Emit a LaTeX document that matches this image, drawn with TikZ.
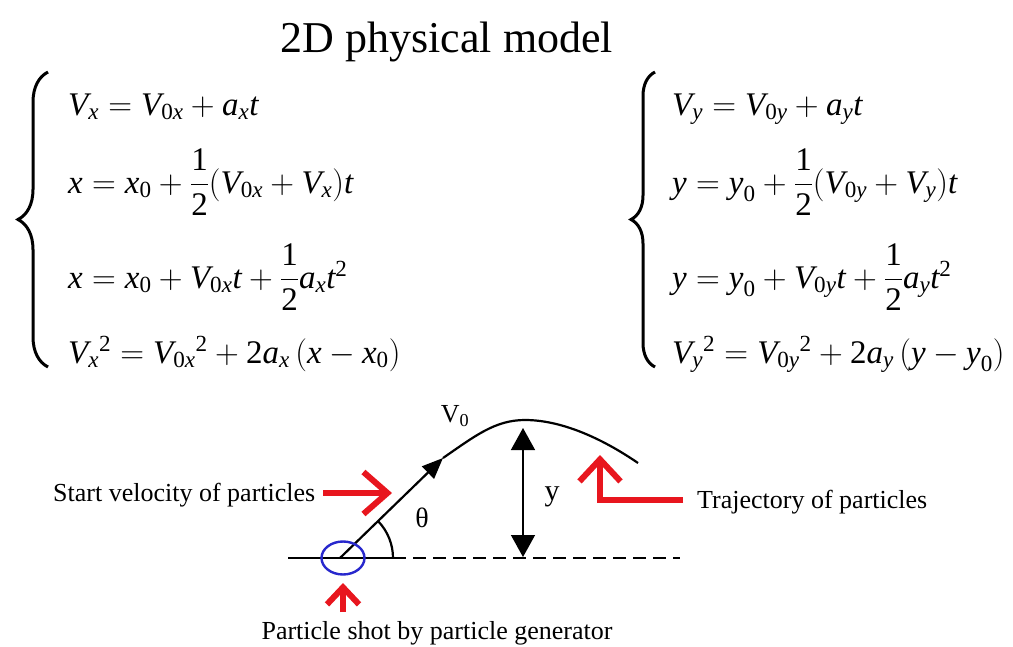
\documentclass[tikz,border=0pt]{standalone}
\usepackage{fix-cm}
\usepackage{amsmath}
\usepackage{fontspec}
\setmainfont{Liberation Serif}
\usetikzlibrary{arrows.meta,decorations.pathreplacing,shapes.geometric}
\newcommand\I[1]{\textit{#1}}
\newcommand\R[1]{\textrm{#1}}
\definecolor{redarrow}{RGB}{232,22,30}
\definecolor{blueellipse}{RGB}{40,40,205}
\tikzset{
  eq/.style={anchor=base west, inner sep=0pt, font=\fontsize{33}{40}\selectfont},
  lbl/.style={anchor=base west, inner sep=0pt, font=\fontsize{26}{30}\selectfont},
  redarr/.style={draw=redarrow, line width=6pt, -{Straight Barb[length=24pt,width=42pt]}},
  brc/.style={decorate, decoration={brace, amplitude=#1}, line width=3pt},
  traj/.style={line width=2.2pt},
}
\begin{document}
\begin{tikzpicture}[x=1pt,y=-1pt]
\fill[white] (0,0) rectangle (1013,646);
\useasboundingbox (0,0) rectangle (1013,646);

% title
\node[anchor=base, inner sep=0pt, font=\fontsize{44}{50}\selectfont] (title) at (447,52) {2D physical model};

% braces
\coordinate (lbB) at (48,367);
\coordinate (lbT) at (48,72);
\draw[brc=30pt] (lbB) -- (lbT);
\coordinate (rbB) at (655,367);
\coordinate (rbT) at (655,72);
\draw[brc=24pt] (rbB) -- (rbT);

% left equations
\node[eq] (ex1) at (68,115) {$\I{V}_{\I{x}}=\I{V}_{\R{0}\I{x}}+\I{a}_{\I{x}}\I{t}$};
\node[eq] (ex2) at (68,193) {$\I{x}=\I{x}_{\R{0}}+\dfrac{\R{1}}{\R{2}}(\I{V}_{\R{0}\I{x}}+\I{V}_{\I{x}})\I{t}$};
\node[eq] (ex3) at (68,288) {$\I{x}=\I{x}_{\R{0}}+\I{V}_{\R{0}\I{x}}\I{t}+\dfrac{\R{1}}{\R{2}}\I{a}_{\I{x}}\I{t}^{\R{2}}$};
\node[eq] (ex4) at (68,363) {$\I{V}_{\I{x}}{}^{\R{2}}=\I{V}_{\R{0}\I{x}}{}^{\R{2}}+\R{2}\I{a}_{\I{x}}\,(\I{x}-\I{x}_{\R{0}})$};

% right equations
\node[eq] (ey1) at (672,115) {$\I{V}_{\I{y}}=\I{V}_{\R{0}\I{y}}+\I{a}_{\I{y}}\I{t}$};
\node[eq] (ey2) at (672,193) {$\I{y}=\I{y}_{\R{0}}+\dfrac{\R{1}}{\R{2}}(\I{V}_{\R{0}\I{y}}+\I{V}_{\I{y}})\I{t}$};
\node[eq] (ey3) at (672,288) {$\I{y}=\I{y}_{\R{0}}+\I{V}_{\R{0}\I{y}}\I{t}+\dfrac{\R{1}}{\R{2}}\I{a}_{\I{y}}\I{t}^{\R{2}}$};
\node[eq] (ey4) at (672,363) {$\I{V}_{\I{y}}{}^{\R{2}}=\I{V}_{\R{0}\I{y}}{}^{\R{2}}+\R{2}\I{a}_{\I{y}}\,(\I{y}-\I{y}_{\R{0}})$};

% physical sketch
\coordinate (launch) at (340,558);
\coordinate (vtip) at (443,458);
\coordinate (apex) at (525,420);
\coordinate (trajend) at (638,463);
\coordinate (gl) at (288,558);
\coordinate (arcend) at (393,558);
\coordinate (gr) at (680,558);
\coordinate (ytop) at (523,428);
\coordinate (ybot) at (523,557);

\draw[traj] (gl) -- (arcend);
\draw[traj, dash pattern=on 13pt off 7pt] (arcend) -- (gr);
\draw[traj] (arcend) arc[start angle=0, end angle=-44, radius=53];
\draw[traj, -{Triangle[length=21pt,width=17pt]}] (launch) -- (vtip);
\draw[traj] (vtip) .. controls (475,436) and (495,420) .. (apex) .. controls (560,420) and (600,437) .. (trajend);
\draw[line width=1.4pt, {Triangle[length=22pt,width=24pt]}-{Triangle[length=22pt,width=24pt]}] (ytop) -- (ybot);

\node[draw=blueellipse, ellipse, line width=2.4pt, minimum width=43pt, minimum height=33pt, inner sep=0pt] (gen) at (343,558) {};

\node[inner sep=0pt, font=\fontsize{28}{30}\selectfont] (theta) at (422,518) {θ};
\node[inner sep=0pt, font=\fontsize{30}{32}\selectfont] (ylbl) at (552,497) {y};
\node[inner sep=0pt, font=\fontsize{26}{30}\selectfont] (v0) at (455,416) {V\textsubscript{0}};

% labels
\node[lbl] (startlbl) at (53,501) {Start velocity of particles};
\node[lbl] (trajlbl) at (697,508) {Trajectory of particles};
\node[lbl, anchor=base] (genlbl) at (437,639) {Particle shot by particle generator};

% red arrows
\coordinate (sa1) at (323,493);
\coordinate (sa2) at (392,493);
\draw[redarr] (sa1) -- (sa2);
\coordinate (ta1) at (683,500);
\coordinate (ta2) at (600,500);
\coordinate (ta3) at (600,455);
\draw[redarr, -{Straight Barb[length=22pt,width=41pt]}] (ta1) -- (ta2) -- (ta3);
\coordinate (ga1) at (343,612);
\coordinate (ga2) at (343,583);
\draw[redarr, -{Straight Barb[length=17pt,width=32pt]}] (ga1) -- (ga2);
\end{tikzpicture}
\end{document}
